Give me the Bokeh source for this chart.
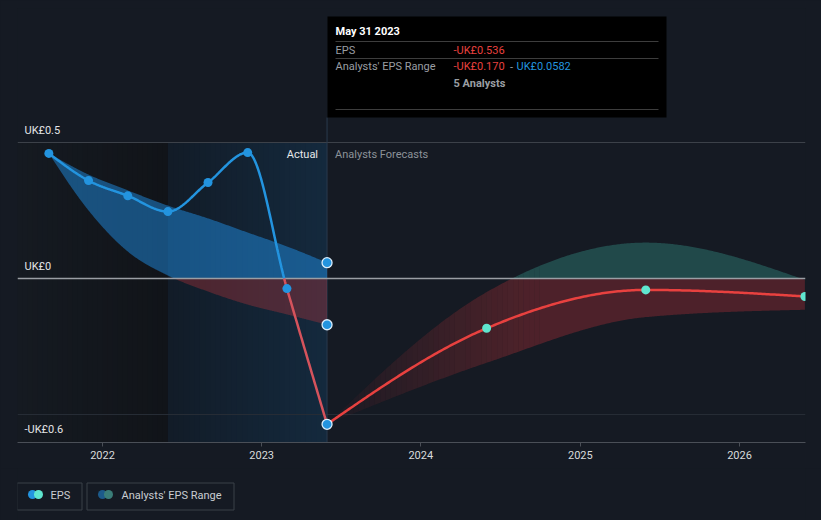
import numpy as np
import pandas as pd
from bokeh.plotting import figure
from bokeh.models import Range1d, FixedTicker
from bokeh.layouts import column
from bokeh.embed import file_html
from bokeh.resources import INLINE
from bokeh.core.properties import value

# ---------------- data ----------------
actual_dates = ["2021-08-31", "2021-11-30", "2022-02-28", "2022-05-31",
                "2022-08-31", "2022-11-30", "2023-02-28", "2023-05-31"]
actual_eps = [0.460, 0.360, 0.304, 0.246, 0.353, 0.463, -0.037, -0.536]
past_range_high = [0.460, 0.382, 0.324, 0.268, 0.221, 0.169, 0.118, 0.0582]
past_range_low = [0.460, 0.250, 0.099, 0.011, -0.048, -0.096, -0.132, -0.170]

forecast_dates = ["2023-05-31", "2024-05-31", "2025-05-31", "2026-05-31"]
forecast_eps = [-0.536, -0.183, -0.042, -0.066]
forecast_high = [-0.536, -0.050, 0.132, -0.005]
forecast_low = [-0.536, -0.310, -0.142, -0.115]

tick_years = ["2022-01-01", "2023-01-01", "2024-01-01", "2025-01-01", "2026-01-01"]
tick_labels = ["2022", "2023", "2024", "2025", "2026"]
y_tick_values = [0.5, 0.0, -0.6]
y_tick_labels = ["UK£0.5", "UK£0", "-UK£0.6"]

actual_start = "2022-05-31"
today = "2023-05-31"
tooltip_date = "May 31 2023"
tooltip_eps = "-UK£0.536"
tooltip_low = "-UK£0.170"
tooltip_high = "UK£0.0582"
tooltip_analysts = "5 Analysts"

# ---------------- helpers ----------------
def to_ms(d):
    return pd.to_datetime(pd.Series(d)).values.astype("datetime64[ms]").astype("int64").astype(float)


def monotone(xs, ys, n=60):
    x = np.asarray(xs, float)
    y = np.asarray(ys, float)
    k = len(x)
    h = np.diff(x)
    s = np.diff(y) / h
    t = np.zeros(k)
    sg = lambda v: -1.0 if v < 0 else 1.0
    for i in range(1, k - 1):
        h0, h1, s0, s1 = h[i - 1], h[i], s[i - 1], s[i]
        pp = (s0 * h1 + s1 * h0) / (h0 + h1)
        t[i] = (sg(s0) + sg(s1)) * min(abs(s0), abs(s1), 0.5 * abs(pp))
    if k > 2:
        t[0] = (3 * s[0] - t[1]) / 2
        t[-1] = (3 * s[-1] - t[-2]) / 2
    else:
        t[:] = s[0]
    ox, oy = [], []
    for i in range(k - 1):
        u = np.linspace(0, 1, n, endpoint=(i == k - 2))
        h00 = 2 * u**3 - 3 * u**2 + 1
        h10 = u**3 - 2 * u**2 + u
        h01 = -2 * u**3 + 3 * u**2
        h11 = u**3 - u**2
        ox.append(x[i] + u * h[i])
        oy.append(h00 * y[i] + h10 * h[i] * t[i] + h01 * y[i + 1] + h11 * h[i] * t[i + 1])
    return np.concatenate(ox), np.concatenate(oy)


def split_sign(x, y):
    pos, neg = [], []
    cx, cy = [x[0]], [y[0]]
    cp = y[0] >= 0
    for i in range(1, len(x)):
        pcur = y[i] >= 0
        if pcur == cp:
            cx.append(x[i]); cy.append(y[i])
        else:
            xc = x[i - 1] + (x[i] - x[i - 1]) * (0 - y[i - 1]) / (y[i] - y[i - 1])
            cx.append(xc); cy.append(0.0)
            (pos if cp else neg).append((cx, cy))
            cx, cy = [xc, x[i]], [0.0, y[i]]
            cp = pcur
    (pos if cp else neg).append((cx, cy))
    return pos, neg


def mix(c1, c2, f):
    a = [int(c1[i:i + 2], 16) for i in (1, 3, 5)]
    b = [int(c2[i:i + 2], 16) for i in (1, 3, 5)]
    return "#" + "".join("%02x" % int(round(a[j] + (b[j] - a[j]) * f)) for j in range(3))

# ---------------- scales ----------------
DAY = 86400000.0
J2022 = to_ms(["2022-01-01"])[0]
px_per_day = 637.0 / 1461.0
x_start = J2022 - 85.0 / px_per_day * DAY
x_end = J2022 + 703.0 / px_per_day * DAY
y_top = 270.0 / 272.0
y_bot = -164.0 / 272.0
FL, FW, FT, FH = 17.0, 788.0, 8.0, 434.0


def X(px):
    return x_start + (px - FL) / FW * (x_end - x_start)


def Y(py):
    return y_top - (py - FT) / FH * (y_top - y_bot)


def PX(xv):
    return FL + (xv - x_start) / (x_end - x_start) * FW


def PY(v):
    return FT + (y_top - v) / (y_top - y_bot) * FH

BG = "#151a23"
FONT = value("Roboto")
BLUE = "#2394df"
RED = "#e8413f"
RED_PAST = "#d5535c"
TEAL = "#5fe6cf"

p = figure(width=821, height=468, x_axis_type="datetime",
           x_range=Range1d(x_start, x_end), y_range=Range1d(y_bot, y_top),
           output_backend="svg", toolbar_location=None,
           min_border_left=17, min_border_right=16, min_border_top=8, min_border_bottom=26,
           background_fill_color=BG, border_fill_color=BG, outline_line_color=None,
           styles={"background-color": BG})
p.yaxis.visible = False
p.xgrid.visible = False
p.ygrid.visible = False

ad = to_ms(actual_dates)
fd = to_ms(forecast_dates)
t_act = to_ms([actual_start])[0]
t_today = to_ms([today])[0]

# background regions (stepped gradients, slightly overlapping to avoid seams)
nst = 30
ov = (t_act - x_start) / nst * 0.6
edges = np.linspace(x_start, t_act, nst + 1)
for i in range(nst):
    p.quad(left=edges[i], right=min(edges[i + 1] + ov, t_act), top=y_tick_values[0], bottom=y_bot,
           fill_color=mix("#151a21", "#111419", i / (nst - 1)), line_color=None)
ov = (t_today - t_act) / nst * 0.6
edges = np.linspace(t_act, t_today, nst + 1)
for i in range(nst):
    p.quad(left=edges[i], right=min(edges[i + 1] + ov, t_today), top=y_tick_values[0], bottom=y_bot,
           fill_color=mix("#121c28", "#14293d", i / (nst - 1)), line_color=None)

# grid lines
p.segment(x0=x_start, x1=x_end, y0=y_tick_values[0], y1=y_tick_values[0], line_color="#3c4149", line_width=1)
p.segment(x0=x_start, x1=x_end, y0=-0.5, y1=-0.5, line_color="#262c35", line_width=1)

# today vertical line
p.segment(x0=t_today, x1=t_today, y0=Y(117), y1=y_bot, line_color="#2a3b4e", line_width=1)

# past range band
bx, bh = monotone(ad, past_range_high)
_, bl = monotone(ad, past_range_low)
p.varea(x=bx, y1=np.maximum(bl, 0), y2=np.maximum(bh, 0), fill_color="#2196f3", fill_alpha=0.46)
p.varea(x=bx, y1=np.minimum(bl, 0), y2=np.minimum(bh, 0), fill_color="#e5393d", fill_alpha=0.28)

# forecast band with fade-in
fx, fh = monotone(fd, forecast_high, n=120)
_, fl = monotone(fd, forecast_low, n=120)
nstrip = 40
idx = np.linspace(0, 160, nstrip + 1).astype(int)
for i in range(nstrip):
    a, b = idx[i], idx[i + 1] + 1
    ramp = min(1.0, 0.08 + (i + 0.5) / nstrip * 1.0)
    p.varea(x=fx[a:b], y1=np.maximum(fl[a:b], 0), y2=np.maximum(fh[a:b], 0),
            fill_color="#3fb6a6", fill_alpha=0.30 * ramp)
    p.varea(x=fx[a:b], y1=np.minimum(fl[a:b], 0), y2=np.minimum(fh[a:b], 0),
            fill_color="#e5393d", fill_alpha=0.27 * ramp)
a = idx[-1]
p.varea(x=fx[a:], y1=np.maximum(fl[a:], 0), y2=np.maximum(fh[a:], 0), fill_color="#3fb6a6", fill_alpha=0.30)
p.varea(x=fx[a:], y1=np.minimum(fl[a:], 0), y2=np.minimum(fh[a:], 0), fill_color="#e5393d", fill_alpha=0.27)

# zero line
p.segment(x0=x_start, x1=x_end, y0=y_tick_values[1], y1=y_tick_values[1], line_color="#9a9ea4", line_width=1.5)

# actual EPS line
lx, ly = monotone(ad, actual_eps, n=80)
pos, neg = split_sign(lx, ly)
p.multi_line(xs=[s[0] for s in pos], ys=[s[1] for s in pos], line_color=BLUE, line_width=2.5)
p.multi_line(xs=[s[0] for s in neg], ys=[s[1] for s in neg], line_color=RED_PAST, line_width=2.5)

# forecast EPS line
ex, ey = monotone(fd, forecast_eps, n=80)
p.line(ex, ey, line_color=RED, line_width=2.5)

# markers
p.scatter(ad[:-1], actual_eps[:-1], size=9, fill_color=BLUE, line_color=None)
p.scatter([ad[-1]] * 3, [actual_eps[-1], past_range_high[-1], past_range_low[-1]], size=10,
          fill_color=BLUE, line_color="#dbeefc", line_width=1.3)
p.scatter(fd[1:], forecast_eps[1:], size=9, fill_color=TEAL, line_color=None)

# axis labels
p.text(x=[X(24)] * 3, y=[Y(PY(v) - 12) for v in y_tick_values], text=y_tick_labels,
       text_font=FONT, text_font_size="11px", text_color="#e2e4e6", text_baseline="middle")
p.text(x=[X(PX(t_today) - 9)], y=[Y(154)], text=["Actual"], text_font=FONT, text_font_size="11px",
       text_color="#e6e8ea", text_align="right", text_baseline="middle")
p.text(x=[X(PX(t_today) + 8)], y=[Y(154)], text=["Analysts Forecasts"], text_font=FONT,
       text_font_size="11px", text_color="#8c9299", text_baseline="middle")

# tooltip
p.quad(left=X(327), right=X(666), top=Y(16), bottom=Y(117), fill_color="#000000", line_color=None)
p.segment(x0=[X(335)] * 3, x1=[X(658)] * 3, y0=[Y(41), Y(58), Y(109)], y1=[Y(41), Y(58), Y(109)],
          line_color="#3d3d3d", line_width=1)
p.text(x=[X(335)], y=[Y(31)], text=[tooltip_date], text_font=FONT, text_font_size="11px",
       text_font_style="bold", text_color="#ffffff", text_baseline="middle")
p.text(x=[X(335), X(335)], y=[Y(49.5), Y(66)], text=["EPS", "Analysts' EPS Range"], text_font=FONT,
       text_font_size="11px", text_color="#9a9ea3", text_baseline="middle")
p.text(x=[X(453)], y=[Y(49.5)], text=[tooltip_eps], text_font=FONT, text_font_size="11px",
       text_color=RED, text_baseline="middle")
p.text(x=[X(453)], y=[Y(66)], text=[tooltip_low], text_font=FONT, text_font_size="11px",
       text_color=RED, text_baseline="middle")
p.text(x=[X(511)], y=[Y(66)], text=["-"], text_font=FONT, text_font_size="11px",
       text_color="#9a9ea3", text_align="center", text_baseline="middle")
p.text(x=[X(516)], y=[Y(66)], text=[tooltip_high], text_font=FONT, text_font_size="11px",
       text_color=BLUE, text_baseline="middle")
p.text(x=[X(453)], y=[Y(83)], text=[tooltip_analysts], text_font=FONT, text_font_size="11px",
       text_font_style="bold", text_color="#9a9ea3", text_baseline="middle")

# x axis
tms = to_ms(tick_years)
xa = p.xaxis[0]
xa.ticker = FixedTicker(ticks=list(tms))
xa.major_label_overrides = {float(t): lab for t, lab in zip(tms, tick_labels)}
xa.axis_line_color = "#4a4f57"
xa.major_tick_line_color = "#4a4f57"
xa.major_tick_in = 0
xa.major_tick_out = 4
xa.minor_tick_line_color = None
xa.major_label_text_color = "#d8dadc"
xa.major_label_text_font = "Roboto"
xa.major_label_text_font_size = "11px"
xa.major_label_standoff = 4

# legend strip (its frame is aligned with the main frame: 17..805 px)
leg = figure(width=821, height=52, x_range=Range1d(17, 805), y_range=Range1d(520, 468),
             output_backend="svg", toolbar_location=None,
             min_border_left=17, min_border_right=16, min_border_top=0, min_border_bottom=0,
             x_axis_location=None, y_axis_location=None,
             background_fill_color=BG, border_fill_color=BG, outline_line_color=None,
             styles={"background-color": BG})
leg.grid.visible = False
leg.quad(left=[16.5, 86.5], right=[81.5, 233.5], top=[482.5, 482.5], bottom=[509.5, 509.5],
         fill_color=None, line_color="#3b4048", line_width=1)
leg.scatter([32, 102], [494, 494], size=9, fill_color=[BLUE, "#1c5a8a"], line_color=None)
leg.scatter([38, 108], [494, 494], size=9, fill_color=[TEAL, "#3a7d78"], line_color=None)
leg.text(x=[50, 121], y=[494.5, 494.5], text=["EPS", "Analysts' EPS Range"], text_font=FONT,
         text_font_size="11px", text_color="#c9cdd2", text_baseline="middle")

layout = column(p, leg, spacing=0, styles={"background-color": BG})
open("out.html", "w").write(file_html(layout, INLINE))
